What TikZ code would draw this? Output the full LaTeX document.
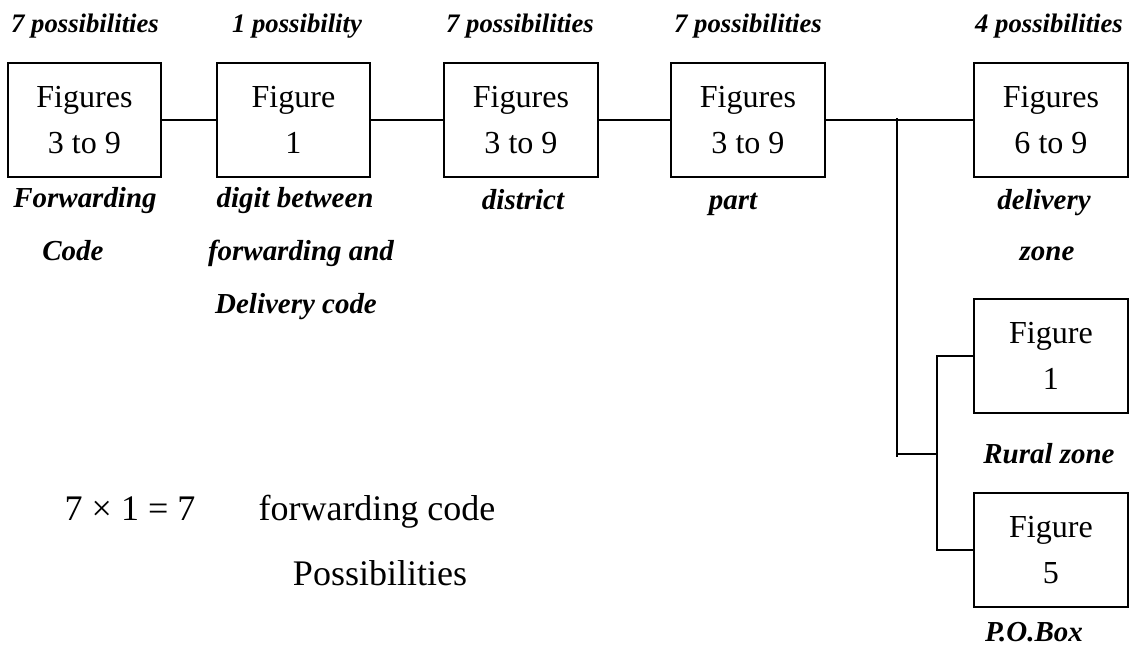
\documentclass[tikz,border=0pt]{standalone}
\usepackage{fontspec}
\setmainfont{Liberation Serif}
\usetikzlibrary{calc}
\tikzset{
  figbox/.style={draw, line width=1.5pt, minimum width=3.83cm, minimum height=2.85cm,
    inner sep=0pt, align=center, font=\fontsize{22.8}{33}\selectfont},
  countlbl/.style={anchor=base, font=\fontsize{19}{23}\selectfont\bfseries\itshape},
  partlbl/.style={anchor=base, font=\fontsize{20.6}{25}\selectfont\bfseries\itshape},
  sumtxt/.style={anchor=base, font=\fontsize{25.6}{31}\selectfont},
  link/.style={line width=1.5pt}
}

\begin{document}
\begin{tikzpicture}[x=0.025cm, y=-0.025cm]
    \useasboundingbox (0,0) rectangle (1130,647);
    % the boxes of the code
    \node[figbox] (fwd) at (84.5,120) {Figures\\3 to 9};
    \node[figbox] (digit) at (293.5,120) {Figure\\1};
    \node[figbox] (dist) at (521,120) {Figures\\3 to 9};
    \node[figbox] (part) at (748,120) {Figures\\3 to 9};
    \node[figbox] (zone) at (1051,120) {Figures\\6 to 9};
    \node[figbox] (rural) at (1051,356) {Figure\\1};
    \node[figbox] (pobox) at (1051,550) {Figure\\5};
    % connecting lines
    \draw[link] (fwd) -- (digit);
    \draw[link] (digit) -- (dist);
    \draw[link] (dist) -- (part);
    \draw[link] (part) -- (zone);
    \coordinate (split) at (897,118);
    \coordinate (splitend) at (897,457);
    \coordinate (fork) at (937,454);
    \draw[link] (split) -- (splitend);
    \draw[link] (fork -| split) -- (fork);
    \draw[link] (rural.west) -| (fork) |- (pobox.west);
    % possibilities on top
    \node[countlbl] (n1) at (85,32) {7 possibilities};
    \node[countlbl] (n2) at (297,32) {1 possibility};
    \node[countlbl] (n3) at (520,32) {7 possibilities};
    \node[countlbl] (n4) at (748,32) {7 possibilities};
    \node[countlbl] (n5) at (1049,32) {4 possibilities};
    % names of the parts
    \node[partlbl] (l1a) at (85,207) {Forwarding};
    \node[partlbl] (l1b) at (73,260) {Code};
    \node[partlbl] (l2a) at (295,207) {digit between};
    \node[partlbl] (l2b) at (301,260) {forwarding and};
    \node[partlbl] (l2c) at (296,313) {Delivery code};
    \node[partlbl] (l3) at (523,209) {district};
    \node[partlbl] (l4) at (733,209) {part};
    \node[partlbl] (l5a) at (1044,209) {delivery};
    \node[partlbl] (l5b) at (1047,260) {zone};
    \node[partlbl] (l6) at (1049,463) {Rural zone};
    \node[partlbl] (l7) at (1034,641) {P.O.Box};
    % the count
    \node[sumtxt] (prod) at (130,520) {7 × 1 = 7};
    \node[sumtxt] (fcode) at (377,520) {forwarding code};
    \node[sumtxt] (poss) at (380,585) {Possibilities};
\end{tikzpicture}
\end{document}
